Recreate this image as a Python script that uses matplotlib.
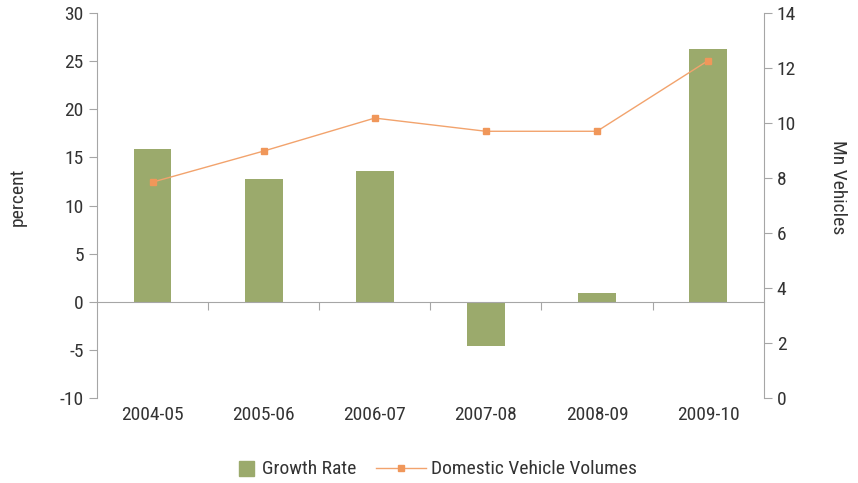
import matplotlib.pyplot as plt
from matplotlib.lines import Line2D
from matplotlib import font_manager

# === Data ===
years = ['2004-05', '2005-06', '2006-07', '2007-08', '2008-09', '2009-10']
growth_rate = [15.9, 12.75, 13.6, -4.6, 0.9, 26.3]          # percent
vehicle_volumes = [7.85, 8.98, 10.18, 9.7, 9.7, 12.27]       # Mn vehicles

# === Style ===
installed = {f.name for f in font_manager.fontManager.ttflist}
families = [f for f in ['Liberation Sans Narrow', 'Roboto Condensed',
                        'DejaVu Sans Condensed', 'Roboto'] if f in installed]
plt.rcParams['font.family'] = families + ['DejaVu Sans']
plt.rcParams['axes.unicode_minus'] = False
text_color = '#333333'
axis_color = '#a6a6a6'
bar_color = '#9baa6c'
line_color = '#f2a36d'
marker_color = '#f0975a'
fs = 14

fig = plt.figure(figsize=(8.58, 4.83), dpi=100)
ax = fig.add_axes([0.113, 0.176, 0.777, 0.797])

x = list(range(len(years)))
ax.bar(x, growth_rate, width=0.34, color=bar_color, zorder=2)
ax.set_xlim(-0.5, len(years) - 0.5)
ax.set_ylim(-10, 30)
ax.set_yticks(range(-10, 31, 5))

# left axis
ax.spines['top'].set_visible(False)
ax.spines['right'].set_visible(False)
ax.spines['left'].set_color(axis_color)
ax.tick_params(axis='y', colors=axis_color, labelcolor=text_color,
               labelsize=fs, length=6, direction='out')
ax.set_ylabel('percent', fontsize=fs, color=text_color)
ax.yaxis.set_label_coords(-0.105, 0.522)

# zero line with category divider ticks
ax.spines['bottom'].set_position(('data', 0))
ax.spines['bottom'].set_color(axis_color)
ax.set_xticks([i + 0.5 for i in range(len(years) - 1)])
ax.set_xticklabels([])
ax.tick_params(axis='x', colors=axis_color, length=6, direction='out')

# category labels at the bottom
sec = ax.secondary_xaxis('bottom')
sec.set_xticks(x)
sec.set_xticklabels(years)
sec.spines['bottom'].set_visible(False)
sec.tick_params(length=0, labelsize=fs, labelcolor=text_color, pad=6)

# right axis
ax2 = ax.twinx()
ax2.plot(x, vehicle_volumes, color=line_color, linewidth=1.0,
         marker='s', markersize=5, markerfacecolor=marker_color,
         markeredgecolor=marker_color, zorder=3)
ax2.set_ylim(0, 14)
ax2.set_yticks(range(0, 15, 2))
for side in ['top', 'left', 'bottom']:
    ax2.spines[side].set_visible(False)
ax2.spines['right'].set_color(axis_color)
ax2.tick_params(axis='y', colors=axis_color, labelcolor=text_color,
                labelsize=fs, length=6, direction='out')
ax2.set_ylabel('Mn Vehicles', fontsize=fs, color=text_color, rotation=270,
               va='center')
ax2.yaxis.set_label_coords(1.111, 0.548)

# === Legend ===
bar_handle = Line2D([0], [0], linestyle='none', marker='s', markersize=10.8,
                    markerfacecolor=bar_color, markeredgecolor=bar_color)
line_handle = Line2D([0], [0], color=line_color, linewidth=1.0, marker='s',
                     markersize=5, markerfacecolor=marker_color,
                     markeredgecolor=marker_color)
fig.legend([bar_handle], ['Growth Rate'], loc='center left',
           bbox_to_anchor=(0.275, 0.028), frameon=False, fontsize=fs,
           labelcolor=text_color, handlelength=1.0, handletextpad=0.34,
           borderpad=0, borderaxespad=0)
fig.legend([line_handle], ['Domestic Vehicle Volumes'], loc='center left',
           bbox_to_anchor=(0.438, 0.028), frameon=False, fontsize=fs,
           labelcolor=text_color, handlelength=2.6, handletextpad=0.25,
           borderpad=0, borderaxespad=0)

fig.savefig('out.png', dpi=100)
